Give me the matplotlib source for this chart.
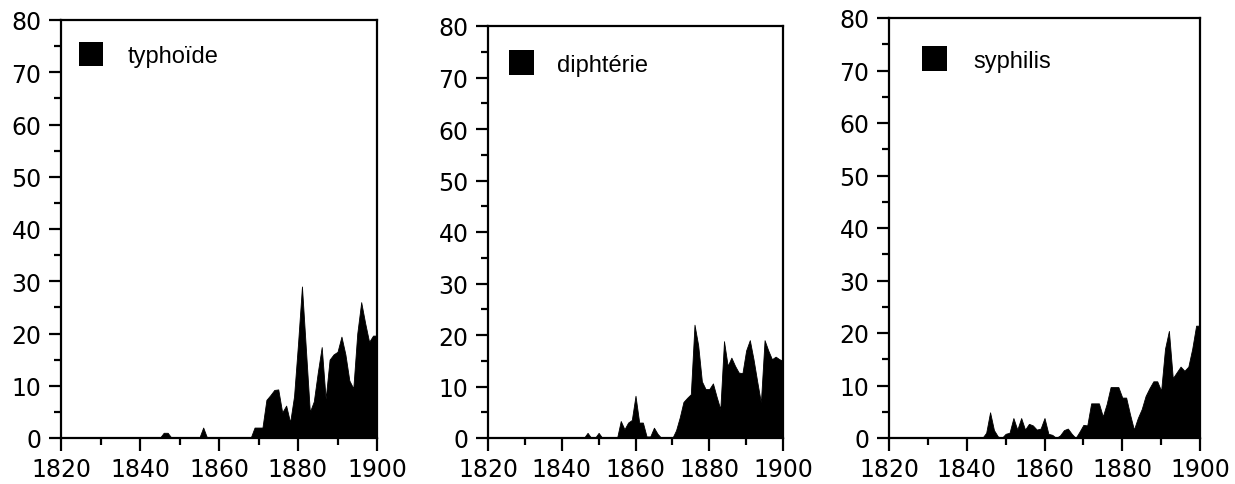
import matplotlib
matplotlib.use("Agg")
import matplotlib.pyplot as plt
from matplotlib.patches import Rectangle
from matplotlib.ticker import MultipleLocator

years = list(range(1820, 1901))

typhoide = [0]*20 + [
    0, 0, 0, 0, 0, 0, 1, 1, 0, 0,
    0, 0, 0, 0, 0, 0, 2, 0, 0, 0,
    0, 0, 0, 0, 0, 0, 0, 0, 0, 2,
    2, 2, 7.3, 8.2, 9.2, 9.3, 4.9, 6.2, 3.0, 8,
    18, 29, 17, 5, 7, 12.5, 17.4, 7.5, 15, 16,
    16.5, 19.4, 16, 11, 9.5, 20, 26, 22, 18.4, 19.6,
    19.6]

diphterie = [0]*20 + [
    0, 0, 0, 0, 0, 0, 0, 1, 0, 0,
    1, 0, 0, 0, 0, 0, 3.3, 1.7, 3, 3.5,
    8.2, 3, 3, 0.3, 0.3, 2, 0.8, 0, 0, 0,
    0, 1.5, 4, 7, 7.8, 8.5, 22, 18, 11, 9.5,
    9.5, 10.6, 8, 5.6, 18.8, 14, 15.6, 14, 12.7, 12.6,
    17, 19, 15.3, 11, 6.9, 19, 17, 15.3, 15.8, 15.3,
    15]

syphilis = [0]*20 + [
    0, 0, 0, 0, 0, 1, 4.9, 1.5, 0.3, 0,
    0.8, 1, 3.8, 1.6, 3.8, 1.6, 2.7, 2.4, 1.6, 1.8,
    3.8, 0.8, 0.6, 0, 0.5, 1.5, 1.8, 0.8, 0, 1.2,
    2.5, 2.4, 6.6, 6.6, 6.6, 4.1, 6.5, 9.7, 9.7, 9.7,
    7.7, 7.7, 4.5, 1.6, 3.8, 5.5, 8, 9.5, 10.8, 10.8,
    9, 17, 20.4, 11.4, 12.5, 13.6, 12.8, 13.6, 17, 21.4,
    21.4]

labels = ["typhoïde", "diphtérie", "syphilis"]
series = [typhoide, diphterie, syphilis]
xticks = [1820, 1840, 1860, 1880, 1900]
yticks = [0, 10, 20, 30, 40, 50, 60, 70, 80]

W, H = 1235, 485
fig = plt.figure(figsize=(W/100, H/100), dpi=100)

# pixel boxes: left, top, right, bottom
boxes = [(61, 21, 377, 439), (488, 27, 783, 439), (889, 19, 1200, 439)]
# legend square: x, y(top), size ; text x, baseline y
legends = [(79, 43, 24, 128, 63), (509, 51, 25, 557, 72), (922, 47, 25, 973, 68)]

for (l, t, r, b), lab, vals, (sx, sy, ss, tx, ty) in zip(boxes, labels, series, legends):
    ax = fig.add_axes([l/W, 1 - b/H, (r-l)/W, (b-t)/H])
    ax.fill_between(years, vals, 0, color="black", linewidth=0.6, edgecolor="black")
    ax.set_xlim(1820, 1900)
    ax.set_ylim(0, 80)
    ax.set_xticks(xticks)
    ax.set_yticks(yticks)
    ax.xaxis.set_minor_locator(MultipleLocator(10))
    ax.yaxis.set_minor_locator(MultipleLocator(5))
    for s in ax.spines.values():
        s.set_linewidth(1.6)
        s.set_color("black")
    ax.tick_params(axis="both", which="major", direction="out", length=9, width=1.6,
                   labelsize=17, colors="black")
    ax.tick_params(axis="both", which="minor", direction="out", length=5, width=1.6)
    ax.tick_params(axis="x", which="major", pad=5)
    ax.tick_params(axis="y", which="major", pad=5)
    for tl in ax.get_xticklabels() + ax.get_yticklabels():
        tl.set_fontfamily("DejaVu Sans")
    fig.patches.append(Rectangle((sx/W, 1 - (sy+ss)/H), ss/W, ss/H,
                                 transform=fig.transFigure, facecolor="black",
                                 edgecolor="none"))
    fig.text(tx/W, 1 - ty/H, lab, fontsize=17, family="Liberation Sans",
             va="baseline", ha="left", color="black")

fig.savefig("out.png", dpi=100)
